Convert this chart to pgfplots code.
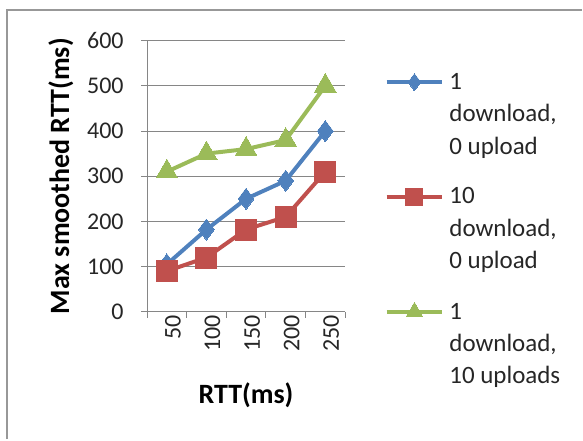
\documentclass[border=0pt]{standalone}
\usepackage{fontspec}
\setmainfont{Carlito}
\usepackage{pgfplots}
\pgfplotsset{compat=1.18}
\definecolor{xblue}{HTML}{4F81BD}
\definecolor{xred}{HTML}{C0504D}
\definecolor{xgreen}{HTML}{9BBB59}
\definecolor{xgrid}{HTML}{868686}
\definecolor{xtext}{HTML}{262626}
\newcommand{\lentry}[3]{\vtop{\baselineskip=32.5pt\hbox{#1}\hbox{#2}\hbox{#3}}}
\begin{document}
\begin{tikzpicture}
\begin{axis}[
  at={(0pt,0pt)}, anchor=south west,
  scale only axis, width=198.4pt, height=271.6pt,
  xmin=-0.5, xmax=4.5, ymin=0, ymax=600,
  axis lines*=left,
  axis line style={xgrid, line width=1pt},
  xtick={-0.5,0.5,1.5,2.5,3.5,4.5}, xticklabels={},
  extra x ticks={0,1,2,3,4},
  extra x tick labels={50,100,150,200,250},
  extra x tick style={major tick length=0pt, tick label style={rotate=90, anchor=east, yshift=-6pt}},
  ytick={0,100,...,600},
  /pgf/number format/assume math mode=true,
  ymajorgrids, grid style={xgrid, line width=1pt},
  tick style={xgrid, line width=1pt},
  tick align=outside, major tick length=6pt,
  tick label style={font=\fontsize{24}{24}\selectfont, text=xtext},
  yticklabel style={xshift=-14pt},
  every axis y label/.style={at={(axis description cs:-0.435,0.5)}, rotate=90, anchor=center},
  every axis x label/.style={at={(axis description cs:0.5,-0.308)}, anchor=center},
  ylabel={Max smoothed RTT(ms)},
  xlabel={RTT(ms)},
  label style={font=\bfseries\fontsize{28}{28}\selectfont, text=black},
  legend style={at={(axis description cs:1.198,0.88)}, anchor=north west, draw=none, fill=none,
    inner sep=0pt, row sep=97pt, column sep=5pt,
    font=\fontsize{25}{32.5}\selectfont, text=xtext,
    nodes={inner sep=0pt}},
  legend cell align=left,
  legend image code/.code={\draw[mark repeat=2, mark phase=2] plot coordinates {(0pt,0pt)(28pt,0pt)(56pt,0pt)};},
  clip=false,
]
\addplot[xblue, line width=4pt, mark=diamond*, mark size=10.5pt, mark options={solid, fill=xblue, draw=xblue, line width=0pt},
  legend image post style={mark size=8.5pt}]
  coordinates {(0,105) (1,182) (2,250) (3,290) (4,400)};
\addlegendentry{\lentry{1}{download,}{0 upload}}
\addplot[xred, line width=4pt, mark=square*, mark size=10.5pt, mark options={solid, fill=xred, draw=xred, line width=0pt},
  legend image post style={mark size=8.5pt}]
  coordinates {(0,90) (1,120) (2,182) (3,210) (4,310)};
\addlegendentry{\lentry{10}{download,}{0 upload}}
\addplot[xgreen, line width=4pt, mark=triangle*, mark size=12.5pt, mark options={solid, fill=xgreen, draw=xgreen, line width=0pt},
  legend image post style={mark size=9.5pt}]
  coordinates {(0,310) (1,350) (2,360) (3,380) (4,500)};
\addlegendentry{\lentry{1}{download,}{10 uploads}}
\end{axis}
\draw[xgrid!85, line width=2pt] (-139.8pt,-127.7pt) -- (-139.8pt,301.8pt) -- (435.7pt,301.8pt);
\path[use as bounding box] (-147.3pt,312.3pt) rectangle (435.7pt,-127.7pt);
\end{tikzpicture}
\end{document}
